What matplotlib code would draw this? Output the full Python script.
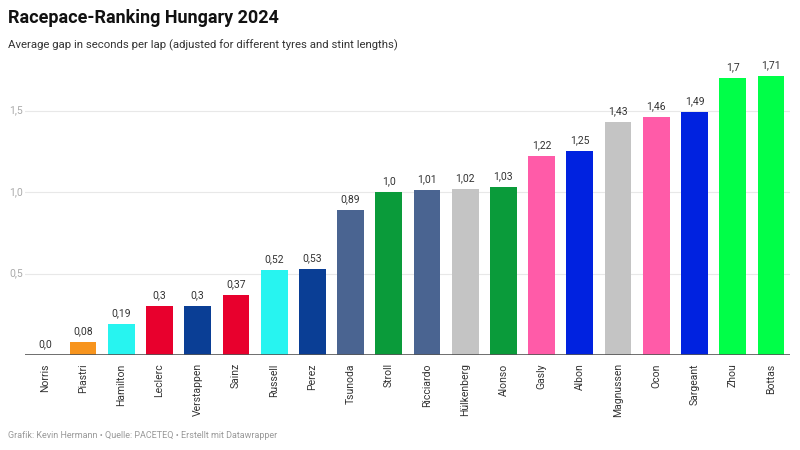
import matplotlib
matplotlib.use('Agg')
import matplotlib.pyplot as plt
import numpy as np

plt.rcParams['font.family'] = ['Roboto', 'DejaVu Sans']

drivers = ['Norris', 'Piastri', 'Hamilton', 'Leclerc', 'Verstappen', 'Sainz', 'Russell',
           'Perez', 'Tsunoda', 'Stroll', 'Ricciardo', 'Hülkenberg', 'Alonso', 'Gasly',
           'Albon', 'Magnussen', 'Ocon', 'Sargeant', 'Zhou', 'Bottas']
gaps = [0.0, 0.08, 0.19, 0.3, 0.3, 0.37, 0.52, 0.53, 0.89, 1.0, 1.01, 1.02, 1.03,
        1.22, 1.25, 1.43, 1.46, 1.49, 1.7, 1.71]
colors = ['#f7941d', '#f7941d', '#27f4f0', '#e8002d', '#0a3e95', '#e8002d', '#27f4f0',
          '#0a3e95', '#4a6491', '#0a9b3a', '#4a6491', '#c4c4c4', '#0a9b3a', '#ff5ba8',
          '#0022e0', '#c4c4c4', '#ff5ba8', '#0022e0', '#00ff48', '#00ff48']
yticks = [0.5, 1.0, 1.5]

fig = plt.figure(figsize=(8, 4.5), dpi=100)
ax = fig.add_axes([25 / 800, 1 - 355 / 450, 765 / 800, 295 / 450])

x = np.arange(len(drivers))
ax.bar(x, gaps, width=0.7, color=colors, zorder=2)

for xi, v in zip(x, gaps):
    ax.text(xi, v + 0.035, str(v).replace('.', ','), ha='center', va='bottom',
            fontsize=7.5, color='#333333')

for t in yticks:
    ax.axhline(t, color='#e8e8e8', linewidth=0.8, zorder=0)
    ax.text(-0.58, t, str(t).replace('.', ','), ha='right', va='center',
            fontsize=7.5, color='#aaaaaa')
ax.axhline(0, color='#555555', linewidth=1.2, zorder=3)

ax.set_xlim(-0.52, 19.5)
ax.set_ylim(0, 1.81)
ax.set_xticks(x)
ax.set_xticklabels(drivers, rotation=90, fontsize=7.5, color='#333333')
ax.tick_params(axis='x', length=0, pad=6)
ax.set_yticks([])
for s in ax.spines.values():
    s.set_visible(False)

fig.text(8 / 800, 1 - 18 / 450, 'Racepace-Ranking Hungary 2024', fontsize=13,
         fontweight='bold', color='#111111', va='center')
fig.text(8 / 800, 1 - 45 / 450,
         'Average gap in seconds per lap (adjusted for different tyres and stint lengths)',
         fontsize=8.2, color='#333333', va='center')
fig.text(8 / 800, 1 - 435 / 450,
         'Grafik: Kevin Hermann • Quelle: PACETEQ • Erstellt mit Datawrapper',
         fontsize=6.5, color='#999999', va='center')

plt.savefig('out.png', dpi=100)
